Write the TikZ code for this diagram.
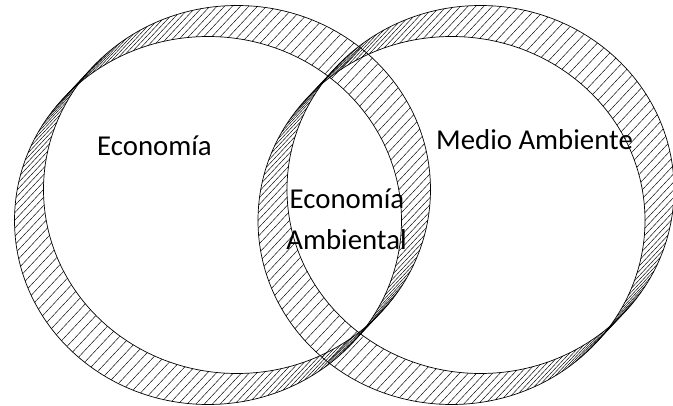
\documentclass[tikz,border=0pt]{standalone}
\usepackage{fontspec}
\setmainfont{Carlito}
\tikzset{%
    hatch/.style={draw=black, line width=0.45pt},
    rim/.style={draw=black, line width=0.7pt},
    tag/.style={inner sep=0pt, anchor=base, font=\fontsize{28.8}{34}\selectfont}
}

\begin{document}
\begin{tikzpicture}[x=1pt,y=-1pt]
    \useasboundingbox (0,0) rectangle (673,406);
    % anillos rayados: trazo de pluma inclinada sobre una elipse
    \foreach \cx in {222.5,466}{
        \foreach \a in {0,2.4,...,357.6}
            \draw[hatch] (\cx,205) ++(\a:193.5pt and 184pt) ++(-14.5,15.5) -- ++(29,-31);
        \draw[rim] (\cx,205) ++(14.5,-15.5) ellipse (193.5 and 184);
        \draw[rim] (\cx,205) ++(-14.5,15.5) ellipse (193.5 and 184);
    }
    % textos
    \node[tag] (econ) at (154.5,156) {Economía};
    \node[tag] (medio) at (534.5,150) {Medio Ambiente};
    \node[tag] (econamb) at (347,209) {Economía};
    \node[tag] (amb) at (346.5,250) {Ambiental};
\end{tikzpicture}
\end{document}
